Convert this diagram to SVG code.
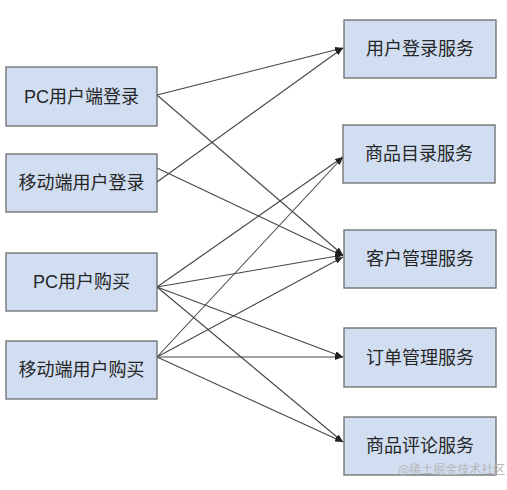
<svg xmlns="http://www.w3.org/2000/svg" width="507" height="490" viewBox="0 0 507 490">
<style>
.box{fill:#d1def2;stroke:#6b6b6b;stroke-width:1.3}
.lbl{font-family:"Liberation Sans","Noto Sans CJK SC",sans-serif;font-size:18px;fill:#262626;text-anchor:middle;dominant-baseline:central}
.edge{stroke:#474747;stroke-width:1.1;fill:none;marker-end:url(#arr)}
.wm{font-family:"Noto Sans CJK SC",sans-serif;font-size:12px;fill:#b8b8b8}
</style>
<defs>
<marker id="arr" markerWidth="8" markerHeight="6" refX="8" refY="3" orient="auto" markerUnits="userSpaceOnUse">
<path d="M0,0 L8,3 L0,6 Z" fill="#222"/>
</marker>
</defs>
<rect width="507" height="490" fill="#ffffff"/>
<g id="connectors">
<line class="edge" x1="157" y1="95" x2="343" y2="48"/>
<line class="edge" x1="157" y1="95" x2="343" y2="255"/>
<line class="edge" x1="157" y1="182" x2="343" y2="48"/>
<line class="edge" x1="157" y1="168" x2="343" y2="256"/>
<line class="edge" x1="157" y1="287" x2="343" y2="157"/>
<line class="edge" x1="157" y1="287" x2="343" y2="255"/>
<line class="edge" x1="157" y1="287" x2="343" y2="357"/>
<line class="edge" x1="157" y1="287" x2="343" y2="442"/>
<line class="edge" x1="157" y1="357" x2="343" y2="157"/>
<line class="edge" x1="157" y1="357" x2="343" y2="257"/>
<line class="edge" x1="157" y1="357" x2="343" y2="357"/>
<line class="edge" x1="157" y1="357" x2="343" y2="442"/>
</g>
<g id="pc-login"><rect class="box" x="6" y="67" width="151" height="59"/><text class="lbl" x="81.5" y="96.5">PC用户端登录</text></g>
<g id="mobile-login"><rect class="box" x="6" y="154" width="151" height="58"/><text class="lbl" x="81.5" y="183">移动端用户登录</text></g>
<g id="pc-buy"><rect class="box" x="6" y="253" width="151" height="58"/><text class="lbl" x="81.5" y="282">PC用户购买</text></g>
<g id="mobile-buy"><rect class="box" x="6" y="341" width="151" height="58"/><text class="lbl" x="81.5" y="370">移动端用户购买</text></g>
<g id="login-svc"><rect class="box" x="344" y="20" width="152" height="58"/><text class="lbl" x="420" y="49">用户登录服务</text></g>
<g id="catalog-svc"><rect class="box" x="343" y="125" width="152" height="58"/><text class="lbl" x="419" y="154">商品目录服务</text></g>
<g id="customer-svc"><rect class="box" x="344" y="230" width="152" height="58"/><text class="lbl" x="420" y="259">客户管理服务</text></g>
<g id="order-svc"><rect class="box" x="344" y="328" width="152" height="59"/><text class="lbl" x="420" y="357.5">订单管理服务</text></g>
<g id="review-svc"><rect class="box" x="344" y="417" width="152" height="58"/><text class="lbl" x="420" y="446">商品评论服务</text></g>
<text class="wm" x="398" y="474">@稀土掘金技术社区</text>
</svg>
